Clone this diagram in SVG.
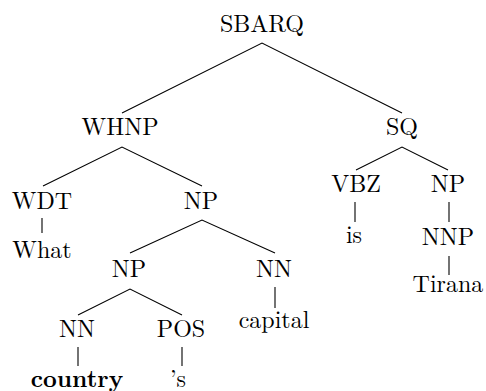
<svg xmlns="http://www.w3.org/2000/svg" width="486" height="391" viewBox="0 0 486 391">
  <style>
    .lbl { font-family: Latin Modern Roman, Liberation Serif, serif; font-size: 24px; fill: #000; text-anchor: middle; }
    .bold { font-weight: bold; }
    .edge { stroke: #000; stroke-width: 1.1; fill: none; }
  </style>
  <rect width="486" height="391" fill="#fff"/>

  <!-- tree edges -->
  <g id="edges">
    <path class="edge" d="M122,113 L262,43 L402,113"/>
    <path class="edge" d="M43,186 L122,147 L202,186"/>
    <path class="edge" d="M356,170 L402,147 L448,170"/>
    <path class="edge" d="M130,253 L202,220 L275,253"/>
    <path class="edge" d="M78,315 L130,289 L182,315"/>
    <line class="edge" x1="42" y1="218" x2="42" y2="233"/>
    <line class="edge" x1="355" y1="202" x2="355" y2="222"/>
    <line class="edge" x1="449" y1="202" x2="449" y2="222"/>
    <line class="edge" x1="449" y1="256" x2="449" y2="275"/>
    <line class="edge" x1="275" y1="287" x2="275" y2="308"/>
    <line class="edge" x1="78" y1="347" x2="78" y2="366"/>
    <line class="edge" x1="182" y1="347" x2="182" y2="366"/>
  </g>

  <g id="sbarq"><text class="lbl" x="262" y="32">SBARQ</text></g>
  <g id="whnp"><text class="lbl" x="120" y="135">WHNP</text></g>
  <g id="sq"><text class="lbl" x="402" y="135">SQ</text></g>
  <g id="vbz"><text class="lbl" x="356" y="192">VBZ</text></g>
  <g id="np-sq"><text class="lbl" x="448" y="192">NP</text></g>
  <g id="wdt"><text class="lbl" x="42" y="209">WDT</text></g>
  <g id="np-whnp"><text class="lbl" x="201" y="209">NP</text></g>
  <g id="w-what"><text class="lbl" x="42" y="258">What</text></g>
  <g id="w-is"><text class="lbl" x="354" y="243">is</text></g>
  <g id="nnp"><text class="lbl" x="448" y="245">NNP</text></g>
  <g id="np-poss"><text class="lbl" x="129" y="277">NP</text></g>
  <g id="nn-head"><text class="lbl" x="274" y="277">NN</text></g>
  <g id="w-capital"><text class="lbl" x="274" y="328">capital</text></g>
  <g id="w-tirana"><text class="lbl" x="448" y="292">Tirana</text></g>
  <g id="nn-mod"><text class="lbl" x="77" y="337">NN</text></g>
  <g id="pos"><text class="lbl" x="181" y="337">POS</text></g>
  <g id="w-country"><text class="lbl bold" x="77" y="387">country</text></g>
  <g id="w-s"><text class="lbl" x="178" y="387">’s</text></g>
</svg>
